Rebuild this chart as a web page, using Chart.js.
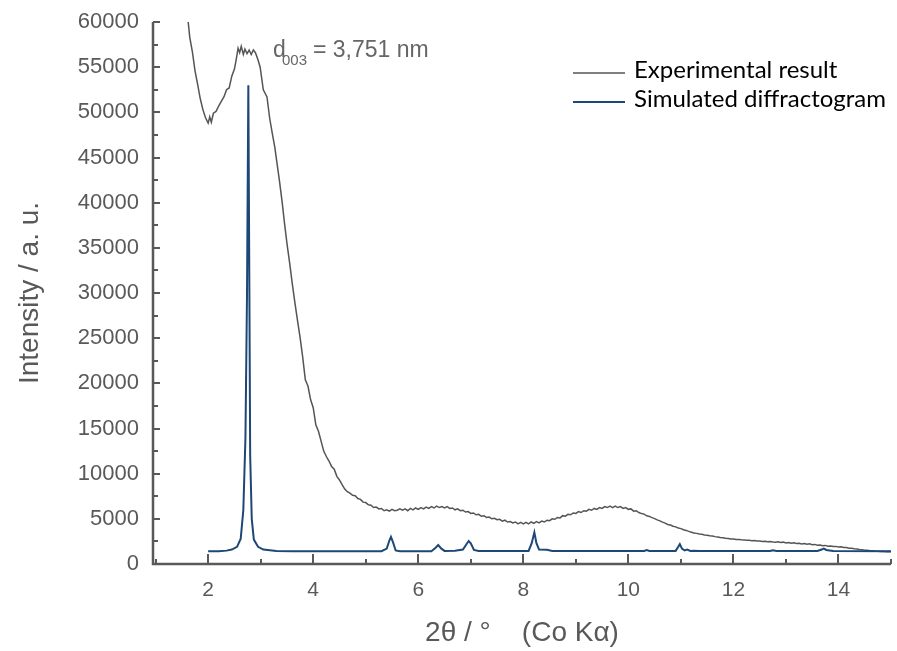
<!DOCTYPE html>
<html lang="en">
  <head>
    <meta charset="UTF-8" />
    <title>Diffractogram</title>
    <script src="https://cdn.jsdelivr.net/npm/chart.js"></script>
    <style>
      body { margin: 0; background: #ffffff; }
      #box { width: 897px; height: 651px; position: relative; }
    </style>
  </head>
  <body>
    <div id="box"><canvas id="myCanvas"></canvas></div>
  </body>
</html>
<script>
  // experimental curve (2theta, counts)
  const expX = [1.62, 1.65, 1.70, 1.75, 1.80, 1.85, 1.90, 1.95, 2.00, 2.03, 2.06, 2.10, 2.15, 2.20, 2.25, 2.30, 2.35, 2.40, 2.45, 2.50,
    2.53, 2.57, 2.60, 2.63, 2.67, 2.70, 2.74, 2.78, 2.82, 2.86, 2.90, 2.95, 2.99, 3.05, 3.12, 3.17, 3.22, 3.27, 3.31, 3.36,
    3.41, 3.45, 3.50, 3.55, 3.60, 3.65, 3.70, 3.75, 3.80, 3.85, 3.90, 3.95, 4.00, 4.05, 4.10, 4.15, 4.20, 4.25, 4.30, 4.35,
    4.40, 4.45, 4.50, 4.55, 4.60, 4.65,
    4.70, 4.75, 4.80, 4.85, 4.90, 4.95, 5.00, 5.05, 5.10, 5.15,
    5.20, 5.25, 5.30, 5.35, 5.40, 5.45, 5.50, 5.55, 5.60, 5.65,
    5.70, 5.75, 5.80, 5.85, 5.90, 5.95, 6.00, 6.05, 6.10, 6.15,
    6.20, 6.25, 6.30, 6.35, 6.40, 6.45, 6.50, 6.55, 6.60, 6.65,
    6.70, 6.75, 6.80, 6.85, 6.90, 6.95, 7.00, 7.05, 7.10, 7.15,
    7.20, 7.25, 7.30, 7.35, 7.40, 7.45, 7.50, 7.55, 7.60, 7.65,
    7.70, 7.75, 7.80, 7.85, 7.90, 7.95, 8.00, 8.05, 8.10, 8.15,
    8.20, 8.25, 8.30, 8.35, 8.40, 8.45, 8.50, 8.55, 8.60, 8.65,
    8.70, 8.75, 8.80, 8.85, 8.90, 8.95, 9.00, 9.05, 9.10, 9.15,
    9.20, 9.25, 9.30, 9.35, 9.40, 9.45, 9.50, 9.55, 9.60, 9.65,
    9.70, 9.75, 9.80, 9.85, 9.90, 9.95, 10.00, 10.05, 10.10, 10.15,
    10.20, 10.25, 10.30, 10.35, 10.40, 10.45, 10.50, 10.55, 10.60, 10.65,
    10.70, 10.75, 10.80, 10.85, 10.90, 10.95, 11.00, 11.05, 11.10, 11.15,
    11.20, 11.25, 11.30, 11.35, 11.40, 11.45, 11.50, 11.55, 11.60, 11.65,
    11.70, 11.75, 11.80, 11.85, 11.90, 11.95, 12.00, 12.05, 12.10, 12.15,
    12.20, 12.25, 12.30, 12.35, 12.40, 12.45, 12.50, 12.55, 12.60, 12.65,
    12.70, 12.75, 12.80, 12.85, 12.90, 12.95, 13.00, 13.05, 13.10, 13.15,
    13.20, 13.25, 13.30, 13.35, 13.40, 13.45, 13.50, 13.55, 13.60, 13.65,
    13.70, 13.75, 13.80, 13.85, 13.90, 13.95, 14.00, 14.05, 14.10, 14.15,
    14.20, 14.25, 14.30, 14.35, 14.40, 14.45, 14.50, 14.55, 14.60, 14.65,
    14.70, 14.75, 14.80, 14.85, 14.90, 14.95, 15.00];
  const expY = [60000, 58300, 56700, 54600, 53100, 51500, 50300, 49400, 48800, 49500, 48900, 49900, 50100, 50700, 51200, 51700, 52500, 52700, 54000, 54800,
    55700, 57100, 56600, 57300, 56400, 57000, 56500, 56900, 56400, 56900, 56600, 55800, 55000, 52500, 51700, 49400, 47700, 46100, 44400, 42300,
    40000, 37900, 35500, 33400, 31100, 29000, 27000, 25100, 22900, 20400, 19700, 18200, 17300, 15400, 14700, 13600, 12500, 11900, 11400, 10800,
    10500, 9700, 9300, 8800, 8300, 8000,
    7850, 7600, 7550, 7250, 7150, 6850, 6800, 6550, 6500, 6250,
    6300, 6100, 6150, 5900, 6000, 5850, 6050, 5900, 5950, 6100,
    5950, 6100, 5900, 6150, 6000, 6200, 6050, 6250, 6100, 6300,
    6150, 6350, 6200, 6400, 6250, 6350, 6200, 6350, 6150, 6200,
    6000, 6100, 5900, 5950, 5750, 5800, 5600, 5650, 5450, 5500,
    5300, 5350, 5150, 5200, 5000, 5050, 4900, 4950, 4750, 4850,
    4650, 4700, 4550, 4650, 4450, 4600, 4450, 4600, 4450, 4650,
    4500, 4700, 4550, 4750, 4650, 4850, 4800, 5000, 4950, 5150,
    5100, 5350, 5300, 5500, 5450, 5650, 5600, 5800, 5700, 5900,
    5850, 6050, 5950, 6150, 6050, 6250, 6150, 6350, 6250, 6400,
    6250, 6400, 6250, 6350, 6150, 6250, 6050, 6100, 5850, 5900,
    5700, 5580, 5520, 5330, 5270, 5130, 5020, 4880, 4770, 4630,
    4520, 4380, 4320, 4180, 4110, 3990, 3920, 3790, 3720, 3610,
    3520, 3430, 3390, 3320, 3290, 3220, 3190, 3120, 3090, 3030,
    2990, 2930, 2900, 2860, 2830, 2780, 2770, 2720, 2720, 2680,
    2670, 2630, 2620, 2580, 2590, 2540, 2550, 2500, 2510, 2460,
    2480, 2430, 2400, 2450, 2380, 2420, 2330, 2380, 2290, 2340,
    2260, 2300, 2220, 2270, 2180, 2230, 2130, 2170, 2080, 2110,
    2020, 2060, 1970, 2000, 1930, 1950, 1880, 1900, 1820, 1820,
    1740, 1750, 1680, 1660, 1600, 1590, 1520, 1530, 1460, 1470,
    1420, 1420, 1380, 1400, 1360, 1370, 1350];

  // simulated pattern
  const simX = [2.00, 2.20, 2.35, 2.45, 2.55, 2.62, 2.67, 2.71, 2.74, 2.765, 2.785, 2.80, 2.83, 2.87, 2.95, 3.05, 3.30, 3.60,
    5.30, 5.40, 5.45, 5.48, 5.52, 5.57, 5.65, 6.25, 6.33, 6.38, 6.44, 6.50, 6.70, 6.85, 6.93, 6.96, 7.00, 7.06, 7.15, 7.60,
    8.10, 8.16, 8.21, 8.25, 8.30, 8.45, 8.55, 10.30, 10.35, 10.40, 10.90, 10.95, 10.98, 11.02, 11.07, 11.12, 11.18, 11.25, 11.35,
    12.70, 12.75, 12.82, 13.60, 13.68, 13.72, 13.77, 13.83, 13.90, 15.00];
  const simY = [1400, 1420, 1480, 1600, 1900, 2800, 6000, 14000, 30000, 53000, 30000, 12000, 5000, 2700, 1900, 1600, 1450, 1420,
    1420, 1700, 2600, 3000, 2400, 1500, 1420, 1420, 1800, 2100, 1700, 1450, 1460, 1600, 2300, 2550, 2300, 1550, 1440, 1450,
    1450, 2300, 3500, 2300, 1600, 1580, 1450, 1440, 1550, 1440, 1450, 1900, 2200, 1700, 1500, 1600, 1450, 1480, 1430,
    1440, 1520, 1440, 1450, 1600, 1700, 1550, 1500, 1440, 1400];

  const xTicks = [1, 2, 3, 4, 5, 6, 7, 8, 9, 10, 11, 12, 13, 14, 15];
  const yMinorTicks = [2500, 7500, 12500, 17500, 22500, 27500, 32500, 37500, 42500, 47500, 52500, 57500];
  const seriesNames = ["Experimental result", "Simulated diffractogram"];
  const seriesColors = ["#555555", "#1d4776"];

  function pares(xs, ys) {
    let out = [];
    for (let i = 0; i < xs.length; i++) {
      out.push({ x: xs[i], y: ys[i] });
    }
    return out;
  }

  const eixoCinza = "#595959";
  const arial = "'Liberation Sans', Arial, sans-serif";

  // axes drawn by hand: ticks point inward, plus legend and labels
  const extras = {
    id: "extras",
    afterDraw(chart) {
      const ctx = chart.ctx;
      const a = chart.chartArea;
      const sx = chart.scales.x;
      const sy = chart.scales.y;
      ctx.save();
      ctx.strokeStyle = eixoCinza;
      ctx.lineWidth = 2.5;
      ctx.beginPath();
      ctx.moveTo(a.left, a.top);
      ctx.lineTo(a.left, a.bottom);
      ctx.lineTo(a.right, a.bottom);
      ctx.stroke();

      ctx.lineWidth = 2;
      ctx.beginPath();
      xTicks.forEach(function (v) {
        const px = Math.round(sx.getPixelForValue(v));
        const len = v % 2 === 0 ? 10 : 5;
        ctx.moveTo(px, a.bottom);
        ctx.lineTo(px, a.bottom - len);
      });
      sy.ticks.forEach(function (t) {
        const py = Math.round(sy.getPixelForValue(t.value));
        ctx.moveTo(a.left, py);
        ctx.lineTo(a.left + 7, py);
      });
      yMinorTicks.forEach(function (v) {
        const py = Math.round(sy.getPixelForValue(v));
        ctx.moveTo(a.left, py);
        ctx.lineTo(a.left + 5, py);
      });
      ctx.stroke();

      // axis titles
      ctx.fillStyle = eixoCinza;
      ctx.font = "28px " + arial;
      ctx.textAlign = "center";
      ctx.textBaseline = "middle";
      ctx.fillText("2\u03b8 / \u00b0    (Co K\u03b1)", 522, 633);
      ctx.save();
      ctx.translate(30, (a.top + a.bottom) / 2);
      ctx.rotate(-Math.PI / 2);
      ctx.font = "28px " + arial;
      ctx.fillText("Intensity / a. u.", 0, 0);
      ctx.restore();

      // peak annotation
      ctx.fillStyle = "#666666";
      ctx.textAlign = "left";
      ctx.textBaseline = "alphabetic";
      ctx.font = "23px " + arial;
      ctx.fillText("d", 273, 57);
      ctx.font = "15px " + arial;
      ctx.fillText("003", 282, 65);
      ctx.font = "23px " + arial;
      ctx.fillText("= 3,751 nm", 313, 57);

      // legend
      ctx.font = "24px Lato, 'Open Sans', sans-serif";
      ctx.fillStyle = "#000000";
      const ys = [73, 102];
      for (let i = 0; i < seriesNames.length; i++) {
        ctx.strokeStyle = seriesColors[i];
        ctx.lineWidth = i === 0 ? 1.5 : 2;
        ctx.beginPath();
        ctx.moveTo(573, ys[i]);
        ctx.lineTo(625, ys[i]);
        ctx.stroke();
        ctx.fillText(seriesNames[i], 634, ys[i] + 5);
      }
      ctx.restore();
    },
  };

  const config = {
    type: "scatter",
    data: {
      datasets: [
        {
          label: seriesNames[0],
          data: pares(expX, expY),
          showLine: true,
          borderColor: seriesColors[0],
          borderWidth: 1.5,
          pointRadius: 0,
          order: 1,
        },
        {
          label: seriesNames[1],
          data: pares(simX, simY),
          showLine: true,
          borderColor: seriesColors[1],
          borderWidth: 2,
          pointRadius: 0,
          order: 0,
        },
      ],
    },
    options: {
      responsive: true,
      maintainAspectRatio: false,
      animation: false,
      layout: { padding: { top: 22, right: 6, left: 0, bottom: 0 } },
      plugins: {
        legend: { display: false },
        tooltip: { enabled: false },
      },
      scales: {
        x: {
          type: "linear",
          min: 0.95,
          max: 15,
          afterBuildTicks: function (scale) {
            scale.ticks = xTicks.map(function (v) { return { value: v }; });
          },
          afterFit: function (scale) {
            scale.height = 87;
            scale.paddingLeft = 0;
            scale.paddingRight = 0;
          },
          grid: { display: false, drawTicks: false },
          border: { display: false },
          ticks: {
            autoSkip: false,
            maxRotation: 0,
            padding: 14,
            color: eixoCinza,
            font: { family: arial, size: 21 },
            callback: function (v) { return v % 2 === 0 ? v : ""; },
          },
        },
        y: {
          min: 0,
          max: 60000,
          afterFit: function (scale) {
            scale.width = 153;
            scale.paddingTop = 0;
            scale.paddingBottom = 0;
          },
          grid: { display: false, drawTicks: false },
          border: { display: false },
          ticks: {
            stepSize: 5000,
            padding: 14,
            color: eixoCinza,
            font: { family: arial, size: 22 },
            callback: function (v) { return String(v); },
          },
        },
      },
    },
    plugins: [extras],
  };

  const myChart = new Chart(document.getElementById("myCanvas"), config);
</script>
